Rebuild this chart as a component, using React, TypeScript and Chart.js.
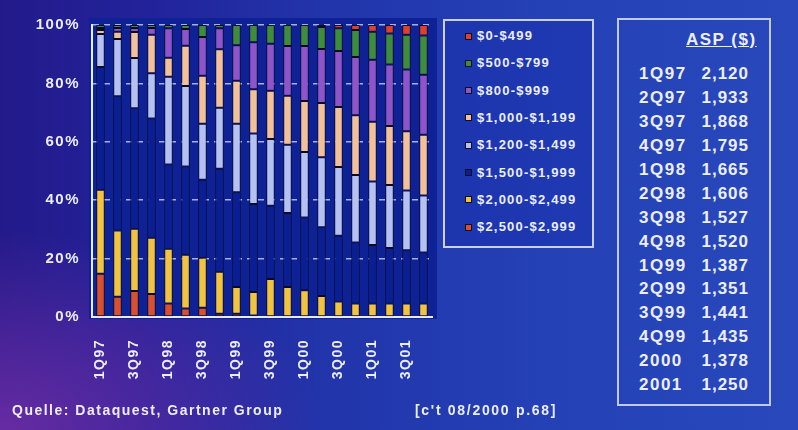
import React, { useEffect, useRef } from "react";
import { Chart, registerables } from "chart.js";

Chart.register(...registerables);

const quarters = [
  "1Q97", "2Q97", "3Q97", "4Q97", "1Q98", "2Q98", "3Q98", "4Q98", "1Q99", "2Q99",
  "3Q99", "4Q99", "1Q00", "2Q00", "3Q00", "4Q00", "1Q01", "2Q01", "3Q01", "4Q01",
];
const shownTicks = ["1Q97", "3Q97", "1Q98", "3Q98", "1Q99", "3Q99", "1Q00", "3Q00", "1Q01", "3Q01"];

const seriesNames = [
  "$0-$499", "$500-$799", "$800-$999", "$1,000-$1,199",
  "$1,200-$1,499", "$1,500-$1,999", "$2,000-$2,499", "$2,500-$2,999",
];
const seriesColors = [
  "#e0402a", "#3f8c3a", "#8e55c8", "#f3c197",
  "#b5c2ef", "#0b1f94", "#f2c33c", "#d9502c",
];

// shares in percent, per quarter
const p0_499 = [0, 0, 0, 0, 0, 0, 0, 0, 0, 0, 0, 0, 0, 0.7, 1.1, 1.7, 2.3, 2.9, 3.3, 3.6];
const p500_799 = [1.0, 1.0, 1.0, 1.0, 1.1, 1.4, 4.1, 1.1, 6.9, 5.9, 6.4, 7.2, 7.2, 7.5, 7.8, 9.3, 9.6, 10.6, 11.9, 13.4];
const p800_999 = [0.7, 1.3, 1.4, 2.3, 10.1, 5.7, 13.3, 7.2, 12.2, 16.1, 16.1, 17.0, 18.8, 18.5, 19.2, 19.9, 21.2, 21.1, 21.2, 20.6];
const p1000_1199 = [1.4, 2.5, 8.9, 13.2, 6.5, 13.8, 16.4, 20.0, 14.7, 15.2, 16.5, 16.8, 17.5, 18.6, 20.5, 20.5, 20.5, 20.2, 20.3, 20.8];
const p1200_1499 = [11.3, 19.6, 17.2, 15.5, 30.1, 27.6, 19.2, 20.9, 23.5, 24.1, 22.9, 23.4, 22.4, 24.0, 23.6, 23.1, 21.7, 21.6, 20.4, 19.5];
const p1500_1999 = [42.0, 46.0, 41.3, 40.9, 28.8, 30.2, 26.7, 35.3, 32.4, 30.1, 25.1, 25.3, 24.9, 23.5, 22.5, 20.9, 20.1, 19.0, 18.3, 17.5];
const p2000_2499 = [28.8, 22.7, 21.3, 19.2, 18.8, 18.4, 17.1, 14.4, 9.2, 8.1, 13.0, 10.3, 9.2, 7.2, 5.3, 4.6, 4.6, 4.6, 4.6, 4.6];
const p2500_2999 = [14.8, 6.9, 8.9, 7.9, 4.6, 2.9, 3.2, 1.1, 1.1, 0.5, 0, 0, 0, 0, 0, 0, 0, 0, 0, 0];

const yTicks = [0, 20, 40, 60, 80, 100];

const aspPeriods = ["1Q97", "2Q97", "3Q97", "4Q97", "1Q98", "2Q98", "3Q98", "4Q98", "1Q99", "2Q99", "3Q99", "4Q99", "2000", "2001"];
const aspValues = ["2,120", "1,933", "1,868", "1,795", "1,665", "1,606", "1,527", "1,520", "1,387", "1,351", "1,441", "1,435", "1,378", "1,250"];

const FONT = "'Liberation Sans', Arial, Helvetica, sans-serif";
const TEXT = "#eceeff";

const plotBg = {
  id: "plotBg",
  beforeDraw(chart: any) {
    const { ctx, chartArea: a } = chart;
    ctx.save();
    ctx.fillStyle = "#0e2195";
    ctx.fillRect(a.left - 3, a.top - 7, a.right - a.left + 8, a.bottom - a.top + 9);
    ctx.restore();
    ctx.letterSpacing = "1.5px";
  },
};

export default function App() {
  const ref = useRef<HTMLCanvasElement | null>(null);

  useEffect(() => {
    if (!ref.current) return;
    const stackBottomUp = [
      p2500_2999, p2000_2499, p1500_1999, p1200_1499,
      p1000_1199, p800_999, p500_799, p0_499,
    ];
    const datasets = stackBottomUp.map((d, i) => {
      const idx = seriesNames.length - 1 - i;
      return {
        label: seriesNames[idx],
        data: d,
        backgroundColor: seriesColors[idx],
        borderColor: "#0a0a20",
        borderWidth: 1,
        borderSkipped: false as any,
        barPercentage: 0.5,
        categoryPercentage: 1,
      };
    });
    const chart = new Chart(ref.current, {
      type: "bar",
      data: { labels: quarters, datasets },
      plugins: [plotBg],
      options: {
        responsive: false,
        animation: false,
        layout: { padding: { left: 0, top: 25, right: 8, bottom: 0 } },
        plugins: { legend: { display: false }, tooltip: { enabled: false } },
        scales: {
          x: {
            stacked: true,
            grid: { display: false, drawTicks: false },
            border: { display: true, color: "#e8ecff", width: 2 },
            ticks: {
              autoSkip: false,
              minRotation: 90,
              maxRotation: 90,
              padding: 22,
              color: TEXT,
              font: { family: FONT, size: 14, weight: "bold" },
              callback: (_v: any, i: number) => (shownTicks.includes(quarters[i]) ? quarters[i] : ""),
            },
            afterFit: (s: any) => {
              s.height = 113;
              s.paddingLeft = 0;
              s.paddingRight = 0;
            },
          },
          y: {
            stacked: true,
            min: 0,
            max: 100,
            afterBuildTicks: (s: any) => {
              s.ticks = yTicks.map((v) => ({ value: v }));
            },
            grid: { color: "#a7b0ea", lineWidth: 1.5, drawTicks: false },
            border: { display: true, color: "#e8ecff", width: 2, dash: [6, 5] },
            ticks: {
              padding: 12,
              color: TEXT,
              font: { family: FONT, size: 15, weight: "bold" },
              callback: (v: any) => v + "%",
            },
            afterFit: (s: any) => {
              s.width = 92;
              s.paddingTop = 0;
              s.paddingBottom = 0;
            },
          },
        },
      },
    });
    return () => chart.destroy();
  }, []);

  const legendTop = 36;
  const legendStep = 27.3;
  const aspTop = 74.3;
  const aspStep = 23.9;

  return (
    <div
      style={{
        position: "fixed",
        left: 0,
        top: 0,
        width: 798,
        height: 430,
        overflow: "hidden",
        fontFamily: FONT,
        fontWeight: "bold",
        color: TEXT,
        background:
          "radial-gradient(ellipse 320px 200px at 0% 100%, rgba(110,45,165,0.9), rgba(110,45,165,0) 100%), linear-gradient(90deg, #231a8a 0%, #22229a 18%, #2234aa 40%, #2442b6 70%, #2848bc 100%)",
      }}
    >
      <canvas ref={ref} width={440} height={430} style={{ position: "absolute", left: 0, top: 0 }} />

      <div
        style={{
          position: "absolute",
          left: 443,
          top: 19,
          width: 151,
          height: 229,
          boxSizing: "border-box",
          border: "2px solid #c9d0f2",
          background: "rgba(20,40,170,0.35)",
        }}
      />
      {seriesNames.map((n, i) => (
        <div key={n}>
          <div
            style={{
              position: "absolute",
              left: 465,
              top: legendTop + legendStep * i - 3.5,
              width: 5,
              height: 5,
              border: "1px solid #101020",
              background: seriesColors[i],
            }}
          />
          <div
            style={{
              position: "absolute",
              left: 477,
              top: legendTop + legendStep * i - 8,
              fontSize: 13,
              lineHeight: "16px",
              letterSpacing: "1.2px",
              whiteSpace: "nowrap",
            }}
          >
            {n}
          </div>
        </div>
      ))}

      <div
        style={{
          position: "absolute",
          left: 617,
          top: 18,
          width: 154,
          height: 388,
          boxSizing: "border-box",
          border: "2px solid #c0c8f0",
        }}
      />
      <div
        style={{
          position: "absolute",
          left: 686,
          top: 30,
          fontSize: 17,
          lineHeight: "20px",
          letterSpacing: "1.5px",
          textDecoration: "underline",
          whiteSpace: "nowrap",
        }}
      >
        ASP ($)
      </div>
      {aspPeriods.map((p, i) => (
        <div key={p}>
          <div
            style={{
              position: "absolute",
              left: 639,
              top: aspTop + aspStep * i - 10,
              fontSize: 17,
              lineHeight: "20px",
              letterSpacing: "1.5px",
              whiteSpace: "nowrap",
            }}
          >
            {p}
          </div>
          <div
            style={{
              position: "absolute",
              right: 798 - 749,
              top: aspTop + aspStep * i - 10,
              fontSize: 17,
              lineHeight: "20px",
              letterSpacing: "1px",
              whiteSpace: "nowrap",
              textAlign: "right",
            }}
          >
            {aspValues[i]}
          </div>
        </div>
      ))}

      <div
        style={{
          position: "absolute",
          left: 12,
          top: 402,
          fontSize: 14,
          lineHeight: "16px",
          letterSpacing: "1.5px",
          whiteSpace: "nowrap",
        }}
      >
        Quelle: Dataquest, Gartner Group
      </div>
      <div
        style={{
          position: "absolute",
          left: 415,
          top: 402,
          fontSize: 14,
          lineHeight: "16px",
          letterSpacing: "1.7px",
          whiteSpace: "nowrap",
        }}
      >
        [c't 08/2000 p.68]
      </div>
    </div>
  );
}
